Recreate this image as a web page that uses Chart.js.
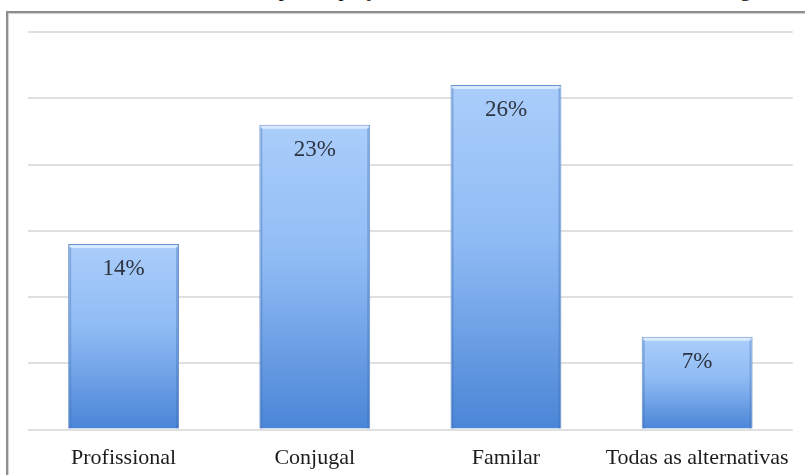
<!DOCTYPE html>
<html lang="pt">
<head>
<meta charset="utf-8">
<script src="https://cdn.jsdelivr.net/npm/chart.js@4.4.1/dist/chart.umd.min.js"></script>
<style>
    html, body { margin: 0; padding: 0; background: #fff; }
    body { width: 805px; height: 475px; position: relative; overflow: hidden; }
    #caption {
        position: absolute; left: 14px; top: -22px;
        font: 22px "Liberation Serif", "Times New Roman", serif; line-height: 22px;
        color: #111; white-space: nowrap;
    }
    #frame {
        position: absolute; left: 6px; top: 11px; width: 820px; height: 490px;
        border-top: 2px solid #8e8e8e; border-left: 2px solid #8e8e8e;
        box-shadow: inset 1px 1px 1px #d0d0d0;
    }
    /* canvas runs a little past the bottom edge, the frame is cut there too */
    #wrap { position: absolute; left: 0; top: 0; width: 805px; height: 492px; }
</style>
</head>
<body>
<div id="caption">Gráfico 3 – Área considerada para o projeto de vida atual, conforme os alunos em geral</div>
<div id="frame"></div>
<div id="wrap"><canvas id="areaChart"></canvas></div>

<script>
/* ================= DATA ================= */
const categories = ["Profissional", "Conjugal", "Familar", "Todas as alternativas"];
const percentages = [14, 23, 26, 7];
const yMin = 0;
const yMax = 30;
const yStep = 5;

const serif = "'Liberation Serif', 'Times New Roman', serif";

/* ================= BAR FILL ================= */
// each bar gets its own light-to-dark gradient, top to bottom
function barGradient(c) {
    const chart = c.chart;
    const { ctx, chartArea, scales } = chart;
    if (!chartArea) return "#8cb8f2";

    const top = scales.y.getPixelForValue(c.raw);
    const bottom = scales.y.getPixelForValue(0);

    const g = ctx.createLinearGradient(0, top, 0, bottom);
    g.addColorStop(0, "#abcefb");
    g.addColorStop(0.45, "#8fbbf4");
    g.addColorStop(1, "#4a85d6");
    return g;
}

/* ================= BEVEL + VALUE LABELS ================= */
const barDecor = {
    id: "barDecor",
    afterDatasetsDraw(chart) {
        const ctx = chart.ctx;
        const meta = chart.getDatasetMeta(0);

        ctx.save();
        meta.data.forEach((bar, i) => {
            const left = bar.x - bar.width / 2;
            const right = bar.x + bar.width / 2;

            // light top edge
            ctx.fillStyle = "rgba(225, 238, 255, 0.85)";
            ctx.fillRect(left + 2, bar.y + 1, bar.width - 4, 3);

            // darker side edges
            ctx.fillStyle = "rgba(60, 105, 175, 0.35)";
            ctx.fillRect(left + 1, bar.y + 3, 2, bar.base - bar.y - 3);
            ctx.fillRect(right - 3, bar.y + 3, 2, bar.base - bar.y - 3);

            ctx.fillStyle = "#2e3440";
            ctx.font = "23px " + serif;
            ctx.textAlign = "center";
            ctx.textBaseline = "middle";
            ctx.fillText(percentages[i] + "%", bar.x, bar.y + 25);
        });
        ctx.restore();
    }
};

/* ================= CHART ================= */
new Chart(document.getElementById("areaChart"), {
    type: "bar",
    data: {
        labels: categories,
        datasets: [{
            data: percentages,
            backgroundColor: barGradient,
            borderColor: "#6a93cc",
            borderWidth: 1,
            borderSkipped: "bottom",
            categoryPercentage: 1,
            barPercentage: 0.58
        }]
    },
    options: {
        responsive: true,
        maintainAspectRatio: false,
        animation: false,
        layout: { padding: { left: 28, right: 11, top: 32, bottom: 6 } },
        plugins: {
            legend: { display: false },
            tooltip: { enabled: false }
        },
        scales: {
            x: {
                grid: { display: false, drawTicks: false },
                border: { display: false },
                ticks: {
                    color: "#1c1c1c",
                    font: { family: serif, size: 22 },
                    padding: 15,
                    maxRotation: 0,
                    autoSkip: false
                }
            },
            y: {
                min: yMin,
                max: yMax,
                ticks: { display: false, stepSize: yStep },
                border: { display: false },
                grid: { color: "#e0e0e0", lineWidth: 2, drawTicks: false }
            }
        }
    },
    plugins: [barDecor]
});
</script>
</body>
</html>
